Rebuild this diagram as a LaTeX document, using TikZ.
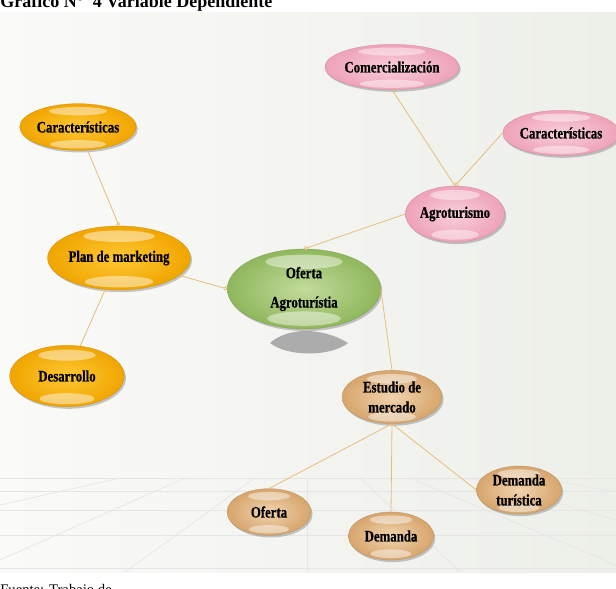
\documentclass[tikz,border=0pt]{standalone}
\usepackage{fontspec}
\setmainfont{Liberation Serif}
\newfontfamily\burbujafont{Liberation Serif Bold}[FakeStretch=0.8, FakeBold=0.6]
\usetikzlibrary{shapes.geometric,shadows,calc,arrows.meta}

\definecolor{fondoA}{HTML}{FAFAF8}
\definecolor{fondoB}{HTML}{EDEFE9}
\definecolor{linea}{HTML}{E4BE7A}
\definecolor{verdeA}{HTML}{C2DB9B}
\definecolor{verdeB}{HTML}{8FB75C}
\definecolor{rosaA}{HTML}{FAD0DB}
\definecolor{rosaB}{HTML}{EEA2B8}
\definecolor{naranjaA}{HTML}{FFC834}
\definecolor{naranjaB}{HTML}{F0A500}
\definecolor{cafeA}{HTML}{F1D3AE}
\definecolor{cafeB}{HTML}{D6A56C}

\tikzset{
  burbuja/.style 2 args={ellipse, inner sep=0pt, align=center,
    font=\burbujafont\fontsize{12}{15}\selectfont,
    inner color=#1, outer color=#2, draw=#2!85!black, line width=0.2pt,
    drop shadow={shadow xshift=1.2pt, shadow yshift=-1.6pt, opacity=0.3, fill=black!70},
    path picture={
      \fill[white, opacity=0.45] let \p1=($(path picture bounding box.north east)-(path picture bounding box.south west)$) in
        ($(path picture bounding box.north)!0.16!(path picture bounding box.south)$) ellipse [x radius=0.25*\x1, y radius=0.09*\y1];
      \fill[white, opacity=0.45] let \p1=($(path picture bounding box.north east)-(path picture bounding box.south west)$) in
        ($(path picture bounding box.north)!0.87!(path picture bounding box.south)$) ellipse [x radius=0.24*\x1, y radius=0.09*\y1];
    }},
  verde/.style={burbuja={verdeA}{verdeB}},
  rosa/.style={burbuja={rosaA}{rosaB}},
  naranja/.style={burbuja={naranjaA}{naranjaB}},
  cafe/.style={burbuja={cafeA}{cafeB}},
  conector/.style={draw=linea, line width=0.6pt},
  punta/.style={-{Circle[open,length=3pt]}},
  piso/.style={draw=gray!20, line width=0.5pt},
}

\begin{document}
\begin{tikzpicture}[x=0.75pt, y=-0.75pt]
  \useasboundingbox (0,0) rectangle (616,588);
  % fondo
  \fill[left color=fondoA, right color=fondoB] (0,13) rectangle (616,572);
  \begin{scope}
    \clip (0,476) rectangle (616,572);
    \foreach \y in {478,491,510,535,568}
      \draw[piso] (0,\y) -- (616,\y);
    \draw[piso] (255,478) -- (125,572);
    \draw[piso] (185,478) -- (0,560);
    \draw[piso] (120,478) -- (0,505);
    \draw[piso] (307,478) -- (307,572);
    \draw[piso] (360,478) -- (460,572);
    \draw[piso] (410,478) -- (616,565);
    \draw[piso] (470,478) -- (616,520);
    \draw[piso] (540,478) -- (616,492);
  \end{scope}
  % titulo y fuente
  \node[anchor=base west, inner sep=0pt, font=\bfseries\fontsize{13.5}{15}\selectfont] (titulo) at (0,8) {Grafico N°\ \ 4 Variable Dependiente};
  \node[anchor=base west, inner sep=0pt, font=\fontsize{11}{13}\selectfont] (fuente) at (0,594) {Fuente: Trabajo de};
  % sombra del centro
  \fill[gray!65] (270,343) .. controls (288,327) and (322,327) .. (348,343)
    .. controls (330,357) and (288,357) .. (270,343);
  % nodos
  \node[verde, minimum width=115pt, minimum height=60pt, font=\burbujafont\fontsize{12}{22}\selectfont] (cen) at (304,289) {Oferta\\Agroturístia};
  \node[rosa, minimum width=65pt, minimum height=42pt] (agro) at (455,214) {Agroturismo};
  \node[rosa, minimum width=83pt, minimum height=34pt] (comer) at (392,67) {Comercialización};
  \node[rosa, minimum width=74pt, minimum height=34pt] (carR) at (561,133) {Características};
  \node[naranja, minimum width=82pt, minimum height=48pt] (plan) at (119,258) {Plan de marketing};
  \node[naranja, minimum width=80pt, minimum height=35pt] (carL) at (78,127) {Características};
  \node[naranja, minimum width=86pt, minimum height=46pt] (desa) at (67,376) {Desarrollo};
  \node[cafe, minimum width=75pt, minimum height=40pt] (estu) at (392,397) {Estudio de\\mercado};
  \node[cafe, minimum width=63pt, minimum height=35pt] (ofe) at (269,512) {Oferta};
  \node[cafe, minimum width=64pt, minimum height=36pt] (dem) at (391,536) {Demanda};
  \node[cafe, minimum width=64pt, minimum height=36pt] (demt) at (519,490) {Demanda\\turística};
  % conectores
  \draw[conector, punta] (carL) -- (plan.north);
  \draw[conector] (plan) -- (desa);
  \draw[conector, punta] (plan) -- (cen.west);
  \draw[conector, punta] (agro.west) -- (cen.north);
  \draw[conector] (comer.south) -- (agro.north);
  \draw[conector, punta] (carR.west) -- (agro.north);
  \draw[conector] (cen.east) -- (estu.north);
  \draw[conector] (estu.south) -- (ofe.north);
  \draw[conector] (estu.south) -- (dem.north);
  \draw[conector] (estu.south) -- (demt.west);
\end{tikzpicture}
\end{document}
